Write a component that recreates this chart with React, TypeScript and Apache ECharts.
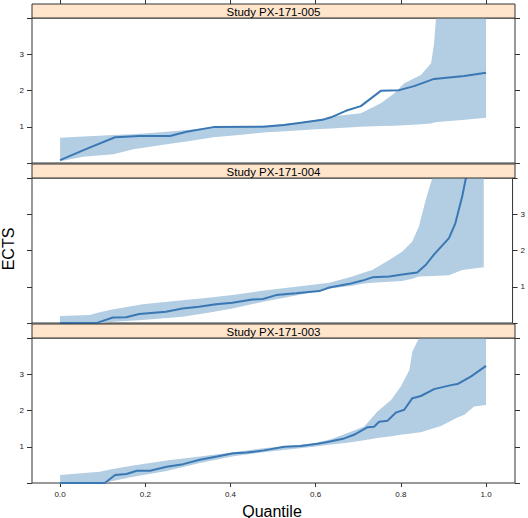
import React, { useEffect, useRef } from "react";
import * as echarts from "echarts";

// ---------- data ----------
const STUDIES = ["Study PX-171-005", "Study PX-171-004", "Study PX-171-003"];
const X_TICKS = [0, 0.2, 0.4, 0.6, 0.8, 1.0];
const Y_TICKS_LABELLED = [1, 2, 3];

// Study PX-171-005
const q005Median = [0, 0.062, 0.129, 0.187, 0.258, 0.297, 0.36, 0.477, 0.526, 0.565, 0.616, 0.636, 0.671, 0.706, 0.753, 0.796, 0.831, 0.878, 0.949, 1.0];
const v005Median = [0.08, 0.39, 0.71, 0.745, 0.745, 0.86, 0.99, 1.0, 1.05, 1.11, 1.19, 1.26, 1.44, 1.57, 1.99, 2.01, 2.12, 2.32, 2.4, 2.49];
const q005Band = [0, 0.054, 0.125, 0.172, 0.25, 0.3, 0.36, 0.42, 0.477, 0.557, 0.6, 0.636, 0.706, 0.753, 0.784, 0.808, 0.847, 0.871, 0.878, 0.886, 0.95, 1.0];
const lo005Band = [0.05, 0.17, 0.24, 0.38, 0.52, 0.6, 0.71, 0.77, 0.84, 0.9, 0.93, 0.95, 1.0, 1.02, 1.03, 1.04, 1.07, 1.09, 1.12, 1.13, 1.19, 1.25];
const hi005Band = [0.7, 0.73, 0.77, 0.79, 0.86, 0.91, 0.99, 1.01, 1.03, 1.11, 1.18, 1.28, 1.37, 1.65, 1.92, 2.2, 2.43, 2.75, 3.3, 4.5, 6.0, 6.0];

// Study PX-171-004
const q004Median = [0, 0.089, 0.125, 0.156, 0.187, 0.25, 0.289, 0.328, 0.368, 0.407, 0.454, 0.479, 0.51, 0.557, 0.612, 0.636, 0.683, 0.714, 0.737, 0.777, 0.808, 0.843, 0.863, 0.882, 0.918, 0.933, 0.949, 0.958, 0.975, 1.0];
const v004Median = [0, 0.01, 0.15, 0.16, 0.25, 0.31, 0.4, 0.45, 0.52, 0.56, 0.65, 0.66, 0.77, 0.82, 0.88, 0.98, 1.08, 1.17, 1.26, 1.28, 1.34, 1.39, 1.6, 1.88, 2.34, 2.75, 3.48, 4.0, 4.7, 5.6];
const q004Band = [0, 0.07, 0.094, 0.117, 0.195, 0.289, 0.35, 0.407, 0.477, 0.557, 0.636, 0.69, 0.714, 0.737, 0.777, 0.808, 0.831, 0.847, 0.863, 0.88, 0.918, 0.949, 1.0];
const lo004Band = [-0.05, -0.05, 0.0, 0.03, 0.08, 0.17, 0.28, 0.4, 0.58, 0.76, 0.95, 1.03, 1.08, 1.11, 1.14, 1.16, 1.22, 1.28, 1.29, 1.3, 1.32, 1.46, 1.54];
const hi004Band = [0.19, 0.22, 0.3, 0.36, 0.52, 0.63, 0.7, 0.77, 0.89, 1.0, 1.11, 1.28, 1.38, 1.46, 1.74, 1.97, 2.24, 2.66, 3.39, 4.05, 6, 6, 6];

// Study PX-171-003
const q003Median = [0, 0.105, 0.129, 0.156, 0.18, 0.211, 0.25, 0.289, 0.328, 0.368, 0.407, 0.438, 0.479, 0.526, 0.565, 0.604, 0.628, 0.667, 0.69, 0.722, 0.737, 0.749, 0.769, 0.788, 0.808, 0.827, 0.847, 0.878, 0.918, 0.933, 0.965, 1.0];
const v003Median = [0, 0, 0.22, 0.25, 0.34, 0.34, 0.45, 0.52, 0.64, 0.73, 0.82, 0.84, 0.9, 1.0, 1.02, 1.08, 1.13, 1.23, 1.33, 1.54, 1.55, 1.69, 1.72, 1.94, 2.02, 2.34, 2.4, 2.59, 2.7, 2.73, 2.94, 3.23];
const q003Band = [0, 0.093, 0.12, 0.172, 0.25, 0.328, 0.407, 0.477, 0.557, 0.596, 0.636, 0.675, 0.714, 0.745, 0.777, 0.8, 0.82, 0.827, 0.847, 0.894, 0.933, 0.949, 0.972, 1.0];
const lo003Band = [-0.05, -0.05, 0.05, 0.17, 0.33, 0.55, 0.74, 0.85, 0.95, 1.0, 1.06, 1.11, 1.18, 1.24, 1.29, 1.33, 1.36, 1.37, 1.4, 1.57, 1.81, 1.88, 2.11, 2.15];
const hi003Band = [0.22, 0.31, 0.38, 0.48, 0.62, 0.73, 0.85, 0.96, 1.05, 1.1, 1.21, 1.38, 1.56, 1.97, 2.29, 2.66, 3.12, 3.63, 4.1, 6, 6, 6, 6, 6];

const PANELS = [
  { qm: q005Median, vm: v005Median, qb: q005Band, lo: lo005Band, hi: hi005Band, labelSide: "left" },
  { qm: q004Median, vm: v004Median, qb: q004Band, lo: lo004Band, hi: hi004Band, labelSide: "right" },
  { qm: q003Median, vm: v003Median, qb: q003Band, lo: lo003Band, hi: hi003Band, labelSide: "left" },
];

// ---------- layout / style ----------
const X_MIN = -0.066;
const X_MAX = 1.068;
const LEFT = 32;
const WIDTH = 483;
const PANEL_H = 145;
const STRIP_H = 14;
const PANEL_TOPS = [18, 178, 338];
const BAND_COLOR = "#b3cde3";
const LINE_COLOR = "#3a78b4";
const FRAME = "#333333";
const FONT = "Liberation Sans, Arial, Helvetica, sans-serif";

export default function App() {
  const ref = useRef<HTMLDivElement>(null);

  useEffect(() => {
    if (!ref.current) return;
    const chart = echarts.init(ref.current, null, { renderer: "svg" });

    const grid: any[] = [];
    const xAxis: any[] = [];
    const yAxis: any[] = [];
    const series: any[] = [];
    const graphic: any[] = [];

    PANELS.forEach((p, i) => {
      const top = PANEL_TOPS[i];
      grid.push({
        left: LEFT,
        top,
        width: WIDTH,
        height: PANEL_H,
        show: true,
        borderColor: FRAME,
        borderWidth: 1,
        backgroundColor: "transparent",
      });

      const isTop = i === 0;
      const isBottom = i === PANELS.length - 1;
      xAxis.push({
        type: "value",
        gridIndex: i,
        min: X_MIN,
        max: X_MAX,
        position: isTop ? "top" : "bottom",
        offset: isTop ? STRIP_H : 0,
        axisLine: { show: false, onZero: false },
        splitLine: { show: false },
        axisTick: {
          show: isTop || isBottom,
          customValues: X_TICKS,
          length: 4,
          lineStyle: { color: FRAME, width: 1 },
        },
        axisLabel: {
          show: isBottom,
          customValues: X_TICKS,
          formatter: (v: number) => v.toFixed(1),
          fontSize: 8,
          color: "#222",
          margin: 7,
          fontFamily: FONT,
        },
      });

      ["left", "right"].forEach((side) => {
        yAxis.push({
          type: "value",
          gridIndex: i,
          min: 0,
          max: 4,
          interval: 1,
          position: side,
          axisLine: { show: false, onZero: false },
          splitLine: { show: false },
          axisTick: { show: true, length: 5, lineStyle: { color: FRAME, width: 1 } },
          axisLabel: {
            show: p.labelSide === side,
            fontSize: 8,
            color: "#222",
            margin: 8,
            fontFamily: FONT,
            formatter: (v: number) => (Y_TICKS_LABELLED.indexOf(v) >= 0 ? String(v) : ""),
          },
        });
      });

      const bandRows = p.qb.map((q, k) => [q, p.lo[k], p.hi[k]]);
      series.push({
        type: "custom",
        xAxisIndex: i,
        yAxisIndex: i * 2,
        data: bandRows,
        encode: { x: 0, y: [1, 2] },
        silent: true,
        z: 1,
        renderItem: (params: any, api: any) => {
          if (params.dataIndex !== 0) return null;
          const pts: number[][] = [];
          for (let k = 0; k < bandRows.length; k++) pts.push(api.coord([bandRows[k][0], bandRows[k][2]]));
          for (let k = bandRows.length - 1; k >= 0; k--) pts.push(api.coord([bandRows[k][0], bandRows[k][1]]));
          const cs = params.coordSys;
          return {
            type: "group",
            clipPath: { type: "rect", shape: { x: cs.x, y: cs.y, width: cs.width, height: cs.height } },
            children: [
              { type: "polygon", shape: { points: pts }, style: { fill: BAND_COLOR, stroke: "none" } },
            ],
          };
        },
      });

      series.push({
        type: "line",
        xAxisIndex: i,
        yAxisIndex: i * 2,
        data: p.qm.map((q, k) => [q, p.vm[k]]),
        showSymbol: false,
        symbol: "none",
        clip: true,
        z: 3,
        lineStyle: { color: LINE_COLOR, width: 2 },
        silent: true,
      });

      // strip
      graphic.push({
        type: "rect",
        shape: { x: LEFT, y: top - STRIP_H, width: WIDTH, height: STRIP_H },
        style: { fill: "#ffe5cc", stroke: FRAME, lineWidth: 1 },
        z: 10,
      });
      graphic.push({
        type: "text",
        x: LEFT + WIDTH / 2,
        y: top - STRIP_H / 2 + 0.5,
        style: {
          text: STUDIES[i],
          fontSize: 11.5,
          fontFamily: FONT,
          fill: "#000",
          align: "center",
          verticalAlign: "middle",
        },
        z: 11,
      });
    });

    graphic.push({
      type: "text",
      x: 8,
      y: 249,
      rotation: Math.PI / 2,
      style: {
        text: "ECTS",
        fontSize: 16,
        fontFamily: FONT,
        fill: "#000",
        align: "center",
        verticalAlign: "middle",
      },
    });
    graphic.push({
      type: "text",
      x: 272,
      y: 511,
      style: {
        text: "Quantile",
        fontSize: 16,
        fontFamily: FONT,
        fill: "#000",
        align: "center",
        verticalAlign: "middle",
      },
    });

    chart.setOption({
      animation: false,
      backgroundColor: "#ffffff",
      textStyle: { fontFamily: FONT },
      grid,
      xAxis,
      yAxis,
      series,
      graphic,
    });

    return () => chart.dispose();
  }, []);

  return (
    <div
      ref={ref}
      style={{ position: "fixed", left: 0, top: 0, width: 528, height: 518 }}
    />
  );
}
